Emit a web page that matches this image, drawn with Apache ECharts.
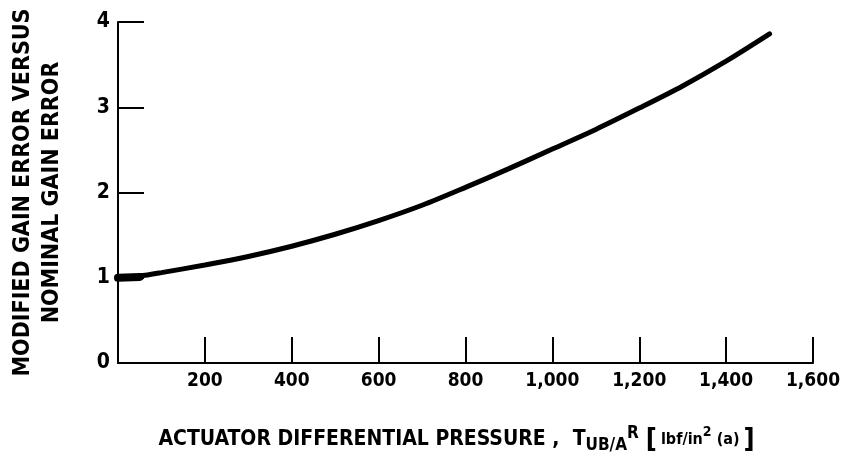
<!DOCTYPE html>
<html>
<head>
<meta charset="utf-8">
<script src="https://cdn.jsdelivr.net/npm/echarts@6/dist/echarts.min.js"></script>
<style>
    html, body { margin: 0; padding: 0; background: #fff; }
    #chart { width: 841px; height: 464px; }
</style>
</head>
<body>
<div id="chart"></div>
<script>
    // 压力 (lbf/in2) 与增益误差比
    const pressure = [0, 50, 100, 200, 300, 400, 500, 600, 700, 800, 900, 1000, 1100, 1200, 1300, 1400, 1500]
    const gainRatio = [1.0, 1.02, 1.06, 1.15, 1.25, 1.37, 1.51, 1.67, 1.85, 2.06, 2.28, 2.51, 2.74, 2.99, 3.25, 3.54, 3.86]
    // 起点处加粗的一小段
    const stubX = [0, 50]
    const stubY = [1.0, 1.01]
    const yTicks = [0, 1, 2, 3, 4]
    const xTicks = [0, 200, 400, 600, 800, 1000, 1200, 1400, 1600]

    const font = "'DejaVu Sans Condensed', 'DejaVu Sans', sans-serif"

    const chart = echarts.init(document.getElementById('chart'))
    chart.setOption({
        animation: false,
        backgroundColor: '#fff',
        grid: { left: 118, right: 28, top: 22, bottom: 101, outerBoundsMode: 'none', containLabel: false },
        xAxis: {
            type: 'value',
            min: xTicks[0],
            max: xTicks[xTicks.length - 1],
            interval: 200,
            splitLine: { show: false },
            axisLine: { lineStyle: { color: '#000', width: 2 } },
            axisTick: { inside: true, length: 26, lineStyle: { color: '#000', width: 2 } },
            axisLabel: {
                color: '#000', fontFamily: font, fontWeight: 'bold', fontSize: 19, margin: 9,
                formatter: v => v === 0 ? '' : v.toLocaleString('en-US')
            },
            name: '{t|ACTUATOR DIFFERENTIAL PRESSURE ,  T}{s|UB/A}{p|R}{b|[}{u|lbf/in}{p2|2}{u| (a)}{b|]}{e| }',
            nameLocation: 'middle',
            nameGap: 62,
            nameTextStyle: {
                color: '#000', fontFamily: font, fontWeight: 'bold',
                rich: {
                    t: { fontFamily: font, fontWeight: 'bold', fontSize: 21, color: '#000' },
                    s: { fontFamily: font, fontWeight: 'bold', fontSize: 17, color: '#000', verticalAlign: 'bottom', padding: [12, 0, 0, 0] },
                    p: { fontFamily: font, fontWeight: 'bold', fontSize: 17, color: '#000', verticalAlign: 'top', padding: [0, 3, 6, 0] },
                    b: { fontFamily: font, fontSize: 27, color: '#000', padding: [0, 4, 0, 4] },
                    u: { fontFamily: font, fontWeight: 'bold', fontSize: 16, color: '#000' },
                    p2: { fontFamily: font, fontWeight: 'bold', fontSize: 14, color: '#000', verticalAlign: 'top', padding: [0, 0, 6, 0] },
                    e: { fontSize: 10, width: 14 }
                }
            }
        },
        yAxis: {
            type: 'value',
            min: yTicks[0],
            max: yTicks[yTicks.length - 1],
            interval: 1,
            splitLine: { show: false },
            axisLine: { show: true, lineStyle: { color: '#000', width: 2 } },
            axisTick: { show: true, inside: true, length: 26, lineStyle: { color: '#000', width: 2 } },
            axisLabel: { color: '#000', fontFamily: font, fontWeight: 'bold', fontSize: 21, margin: 8 },
            name: 'MODIFIED GAIN ERROR VERSUS\nNOMINAL GAIN ERROR',
            nameLocation: 'middle',
            nameGap: 51,
            nameTextStyle: { color: '#000', fontFamily: font, fontWeight: 'bold', fontSize: 23, lineHeight: 29 }
        },
        series: [
            {
                type: 'line',
                data: pressure.map((x, i) => [x, gainRatio[i]]),
                smooth: 0.3,
                showSymbol: false,
                lineStyle: { color: '#000', width: 5, cap: 'round' }
            },
            {
                type: 'line',
                data: stubX.map((x, i) => [x, stubY[i]]),
                showSymbol: false,
                lineStyle: { color: '#000', width: 8, cap: 'round' }
            }
        ]
    })
</script>
</body>
</html>
